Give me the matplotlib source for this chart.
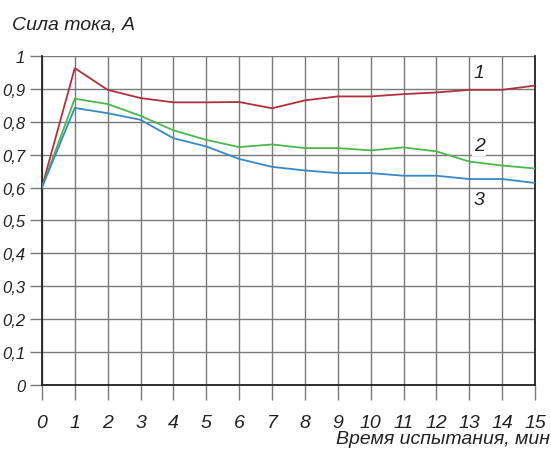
import matplotlib.pyplot as plt
from matplotlib.ticker import FuncFormatter

# время испытания, мин
minutes = list(range(16))

# сила тока, А
current_1 = [0.60, 0.963, 0.897, 0.872, 0.859, 0.859, 0.860, 0.841,
             0.865, 0.877, 0.877, 0.884, 0.889, 0.897, 0.897, 0.910]
current_2 = [0.60, 0.870, 0.854, 0.818, 0.774, 0.745, 0.723, 0.731,
             0.720, 0.720, 0.713, 0.722, 0.710, 0.679, 0.667, 0.658]
current_3 = [0.60, 0.842, 0.826, 0.806, 0.750, 0.725, 0.687, 0.663,
             0.652, 0.644, 0.644, 0.636, 0.636, 0.626, 0.626, 0.614]

y_ticks = [i / 10 for i in range(11)]

plt.rcParams['font.family'] = ['Liberation Sans', 'DejaVu Sans']
plt.rcParams['font.style'] = 'italic'

fig = plt.figure(figsize=(5.51, 4.52), dpi=100)
ax = fig.add_axes([0.076, 0.146, 0.895, 0.728])

ax.plot(minutes, current_1, color='#b0303c', lw=1.3, zorder=3)
ax.plot(minutes, current_2, color='#4cb84c', lw=1.3, zorder=3)
ax.plot(minutes, current_3, color='#3a88c4', lw=1.3, zorder=3)

ax.set_xlim(0, 15)
ax.set_ylim(0, 1)
ax.set_xticks(minutes)
ax.set_yticks(y_ticks)
ax.yaxis.set_major_formatter(FuncFormatter(
    lambda v, p: '0' if v == 0 else ('1' if v == 1 else f'{v:.1f}'.replace('.', ','))))
ax.grid(True, color='#7a7a7a', lw=1.0)
ax.tick_params(width=1.0, color='#7a7a7a', labelsize=14, labelcolor='#222222')
ax.tick_params(axis='x', length=11, pad=10)
ax.tick_params(axis='y', length=9, pad=3, labelsize=12)

for side in ['left', 'bottom', 'right']:
    ax.spines[side].set_color('#222222')
    ax.spines[side].set_linewidth(1.3)
ax.spines['top'].set_visible(False)

ax.text(13.3, 0.95, '1', fontsize=14, color='#222222', ha='center', va='center')
ax.text(13.3, 0.727, '2', fontsize=14, color='#222222', ha='center', va='center',
        bbox=dict(facecolor='white', edgecolor='none', pad=1))
ax.text(13.3, 0.564, '3', fontsize=14, color='#222222', ha='center', va='center')

fig.text(0.022, 0.945, 'Сила тока, А', fontsize=14, color='#222222', va='center')
fig.text(0.998, 0.027, 'Время испытания, мин', fontsize=14, color='#222222',
         ha='right', va='center')

fig.savefig('out.png', dpi=100)
